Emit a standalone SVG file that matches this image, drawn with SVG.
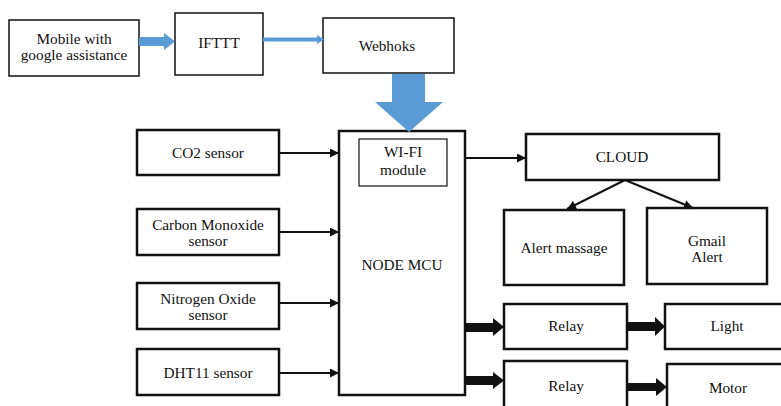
<svg xmlns="http://www.w3.org/2000/svg" width="781" height="406" viewBox="0 0 781 406">
  <style>
    .lbl { font-size: 15.3px; fill: #111; text-anchor: middle; }
    .box { fill: #fff; stroke: #111; }
    .thin { stroke-width: 1.5; }
    .thick { stroke-width: 2.5; }
    .hair { stroke-width: 1.2; }
    .wire { stroke: #111; stroke-width: 2; fill: none; }
    .blue { fill: #5b9bd5; }
    .bold-arrow { fill: #111; }
  </style>
  <defs>
    <marker id="head" viewBox="0 0 10 10" refX="10" refY="5" markerWidth="5" markerHeight="4.5" markerUnits="strokeWidth" orient="auto">
      <path d="M0,0 L10,5 L0,10 Z" fill="#111"/>
    </marker>
  </defs>

  <g font-family="'Liberation Serif', 'DejaVu Serif', serif" class="lbl">
  <!-- phone / IFTTT / webhooks chain -->
  <g id="mobile">
    <rect class="box thin" x="9" y="20" width="130" height="56"/>
    <text x="74" y="44">Mobile with</text>
    <text x="74" y="60">google assistance</text>
  </g>
  <g id="ifttt">
    <rect class="box thin" x="175" y="13" width="88" height="62"/>
    <text x="219" y="48">IFTTT</text>
  </g>
  <g id="webhooks">
    <rect class="box thin" x="323" y="18" width="131" height="55"/>
    <text x="387" y="51">Webhoks</text>
  </g>

  <!-- sensors -->
  <g id="co2">
    <rect class="box thick" x="137" y="130" width="142" height="45"/>
    <text x="208" y="158">CO2 sensor</text>
  </g>
  <g id="co">
    <rect class="box thick" x="137" y="209" width="142" height="46"/>
    <text x="208" y="230">Carbon Monoxide</text>
    <text x="208" y="246">sensor</text>
  </g>
  <g id="nox">
    <rect class="box thick" x="137" y="283" width="142" height="46"/>
    <text x="208" y="304">Nitrogen Oxide</text>
    <text x="208" y="320">sensor</text>
  </g>
  <g id="dht11">
    <rect class="box thick" x="137" y="349" width="142" height="46"/>
    <text x="208" y="378">DHT11 sensor</text>
  </g>

  <!-- controller -->
  <g id="nodemcu">
    <rect class="box thick" x="339" y="131" width="126" height="264"/>
    <text x="402" y="270">NODE MCU</text>
  </g>
  <g id="wifi">
    <rect class="box hair" x="359" y="139" width="88" height="47"/>
    <text x="403" y="157">WI-FI</text>
    <text x="403" y="175">module</text>
  </g>

  <!-- cloud side -->
  <g id="cloud">
    <rect class="box thick" x="526" y="134" width="193" height="46"/>
    <text x="622" y="162">CLOUD</text>
  </g>
  <g id="alert-message">
    <rect class="box thick" x="504" y="210" width="120" height="75"/>
    <text x="564" y="253">Alert massage</text>
  </g>
  <g id="gmail-alert">
    <rect class="box thick" x="647" y="208" width="120" height="76"/>
    <text x="707" y="246">Gmail</text>
    <text x="707" y="262">Alert</text>
  </g>

  <!-- actuators -->
  <g id="relay1">
    <rect class="box thick" x="504" y="304" width="123" height="45"/>
    <text x="566" y="331">Relay</text>
  </g>
  <g id="light">
    <rect class="box thick" x="665" y="304" width="130" height="45"/>
    <text x="727" y="331">Light</text>
  </g>
  <g id="relay2">
    <rect class="box thick" x="504" y="361" width="123" height="60"/>
    <text x="566" y="391">Relay</text>
  </g>
  <g id="motor">
    <rect class="box thick" x="667" y="364" width="130" height="60"/>
    <text x="728" y="393">Motor</text>
  </g>
  </g>

  <!-- connectors -->
  <g id="connectors">
    <polygon class="blue" points="139,37 164,37 164,33 175,41.5 164,50 164,46 139,46"/>
    <polygon class="blue" points="263,37.5 317,37.5 317,35 324,39.5 317,44 317,41.5 263,41.5"/>
    <polygon class="blue" points="392,74 425,74 425,102 443,102 409,132 375,102 392,102"/>

    <line class="wire" x1="279" y1="153" x2="339" y2="153" marker-end="url(#head)"/>
    <line class="wire" x1="279" y1="232" x2="339" y2="232" marker-end="url(#head)"/>
    <line class="wire" x1="279" y1="303" x2="339" y2="303" marker-end="url(#head)"/>
    <line class="wire" x1="279" y1="373" x2="339" y2="373" marker-end="url(#head)"/>

    <line class="wire" x1="465" y1="158" x2="526" y2="158" marker-end="url(#head)"/>
    <line class="wire" x1="625" y1="180" x2="567" y2="209" marker-end="url(#head)"/>
    <line class="wire" x1="625" y1="180" x2="693" y2="208" marker-end="url(#head)"/>

    <polygon class="bold-arrow" points="466,323 493,323 493,318 504,327 493,336 493,332 466,332"/>
    <polygon class="bold-arrow" points="466,376 493,376 493,372 504,380.5 493,389 493,385 466,385"/>
    <polygon class="bold-arrow" points="628,322 655,322 655,317 665,326.5 655,336 655,331 628,331"/>
    <polygon class="bold-arrow" points="628,383 656,383 656,378 667,387 656,396 656,391 628,391"/>
  </g>
</svg>
